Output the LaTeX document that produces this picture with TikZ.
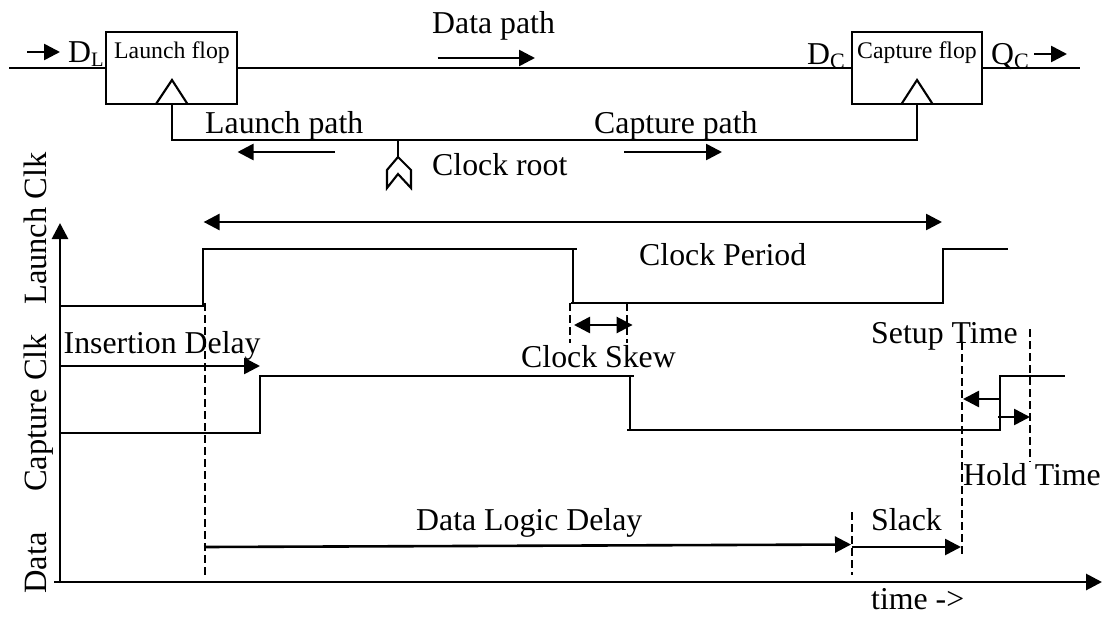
\documentclass[tikz,border=0pt]{standalone}
\usepackage{fontspec}
\setmainfont{Liberation Serif}
\usetikzlibrary{arrows.meta}
\newcommand{\subtxt}[2][22]{{\fontsize{#1}{#1}\selectfont\raisebox{-4pt}{#2}}}
\tikzset{
  wire/.style={draw=black,line width=2.1pt},
  thinwire/.style={draw=black,line width=1.9pt},
  axisline/.style={draw=black,line width=2.8pt,-{Triangle[length=16pt,width=16pt]}},
  dimarrow/.style={draw=black,line width=2.6pt,-{Triangle[length=16pt,width=16pt]}},
  dimboth/.style={draw=black,line width=2.6pt,{Triangle[length=16pt,width=16pt]}-{Triangle[length=16pt,width=16pt]}},
  guide/.style={draw=black,line width=1.8pt,dash pattern=on 7.5pt off 4.5pt},
  flop/.style={draw=black,line width=2.1pt,fill=white,inner sep=0pt,rectangle},
  lab/.style={anchor=base west,inner sep=0pt,font=\fontsize{31.8}{32}\selectfont},
  flab/.style={anchor=base west,inner sep=0pt,font=\fontsize{23.8}{24}\selectfont},
  vlab/.style={anchor=base west,inner sep=0pt,rotate=90,font=\fontsize{32.5}{33}\selectfont},
}
\begin{document}
\begin{tikzpicture}[x=1pt,y=-1pt]
\useasboundingbox (0,0) rectangle (1102,616);
% flops
\node[flop,minimum width=130.4pt,minimum height=72pt] (lf) at (171.6,68) {};
\node[flop,minimum width=130.4pt,minimum height=72pt] (cf) at (917.2,68) {};
\node[flab] (lft) at (114,58) {Launch flop};
\node[flab] (cft) at (857,58) {Capture flop};
% clock triangles
\draw[wire] (156,104) -- (172,80) -- (187.5,104);
\draw[wire] (901.5,104) -- (917,80) -- (932.6,104);
% data wires
\coordinate (din) at (9,68);
\coordinate (qout) at (1079.5,68);
\draw[wire] (din) -- (din -| lf.west);
\draw[wire] (lf.east |- din) -- (cf.west |- din);
\draw[wire] (cf.east |- qout) -- (qout);
% clock tree
\coordinate (croot) at (398,140);
\coordinate (ctop) at (398,157);
\draw[wire] (lf.south) |- (croot) -| (cf.south);
\draw[wire] (croot) -- (ctop);
\draw[wire,line join=miter] (ctop) -- (411,170) -- (411,188) -- (398,174) -- (387,188) -- (387,170) -- cycle;
% top labels
\node[lab] (dl) at (68,62) {D\subtxt[20.5]{L}};
\node[lab] (dc) at (807,64) {D\subtxt{C}};
\node[lab] (qc) at (991,64) {Q\subtxt{C}};
\node[lab] (dp) at (432,33) {Data path};
\node[lab] (lp) at (205,133) {Launch path};
\node[lab] (cp) at (594,133) {Capture path};
\node[lab] (cr) at (432,175) {Clock root};
% top arrows
\coordinate (a1) at (27,52); \coordinate (a2) at (60,52);
\draw[dimarrow] (a1) -- (a2);
\coordinate (a3) at (1034,54); \coordinate (a4) at (1067,54);
\draw[dimarrow] (a3) -- (a4);
\coordinate (a5) at (437.5,58); \coordinate (a6) at (535,58);
\draw[dimarrow] (a5) -- (a6);
\coordinate (a7) at (335,152); \coordinate (a8) at (237.5,152);
\draw[dimarrow] (a7) -- (a8);
\coordinate (a9) at (624,152); \coordinate (a10) at (722,152);
\draw[dimarrow] (a9) -- (a10);
% axes
\coordinate (origin) at (60,582);
\draw[axisline] (60,583) -- (60,223);
\draw[axisline] (54,582) -- (1102,582);
% axis labels
\node[vlab] (yl1) at (46,305) {Launch Clk};
\node[vlab] (yl2) at (46,492) {Capture Clk};
\node[vlab] (yl3) at (46,594) {Data};
\node[lab] (tm) at (871,609) {time ->};
% waveforms
\draw[thinwire] (60,306) -- (203,306) -- (203,249) -- (577,249);
\draw[thinwire] (573,249) -- (573,303);
\draw[thinwire] (571,303) -- (942.6,303) -- (942.6,249) -- (1007.6,249);
\draw[thinwire] (60,433) -- (260,433) -- (260,376) -- (633.6,376);
\draw[thinwire] (630,376) -- (630,430);
\draw[thinwire] (627,430) -- (999.7,430) -- (999.7,376) -- (1064.7,376);
% guides
\draw[guide] (204.6,303) -- (204.6,575);
\draw[guide] (570,303) -- (570,343);
\draw[guide] (627,303) -- (627,343);
\draw[guide] (962,342) -- (962,555);
\draw[guide] (1030,329) -- (1030,462);
\draw[guide] (852,512) -- (852,575);
% dimension arrows
\coordinate (p1) at (203.6,222); \coordinate (p2) at (942,222);
\draw[dimboth] (p1) -- (p2);
\coordinate (s1) at (574,325); \coordinate (s2) at (632.6,325);
\draw[dimboth] (s1) -- (s2);
\coordinate (i1) at (60,366); \coordinate (i2) at (260,366);
\draw[dimarrow] (i1) -- (i2);
\coordinate (u1) at (999.7,399); \coordinate (u2) at (963,399);
\draw[dimarrow] (u1) -- (u2);
\coordinate (h1) at (998,417); \coordinate (h2) at (1030,417);
\draw[dimarrow] (h1) -- (h2);
\coordinate (d1) at (204,547); \coordinate (d2) at (851,544.5);
\draw[dimarrow] (d1) -- (d2);
\coordinate (k1) at (852,547); \coordinate (k2) at (961,547);
\draw[dimarrow] (k1) -- (k2);
% timing labels
\node[lab] (cpd) at (639,265) {Clock Period};
\node[lab] (id) at (63.5,353) {Insertion Delay};
\node[lab] (csk) at (521,367) {Clock Skew};
\node[lab] (su) at (871,343) {Setup Time};
\node[lab] (ho) at (963,485) {Hold Time};
\node[lab] (dld) at (416,530) {Data Logic Delay};
\node[lab] (sl) at (871,530) {Slack};
\end{tikzpicture}
\end{document}
